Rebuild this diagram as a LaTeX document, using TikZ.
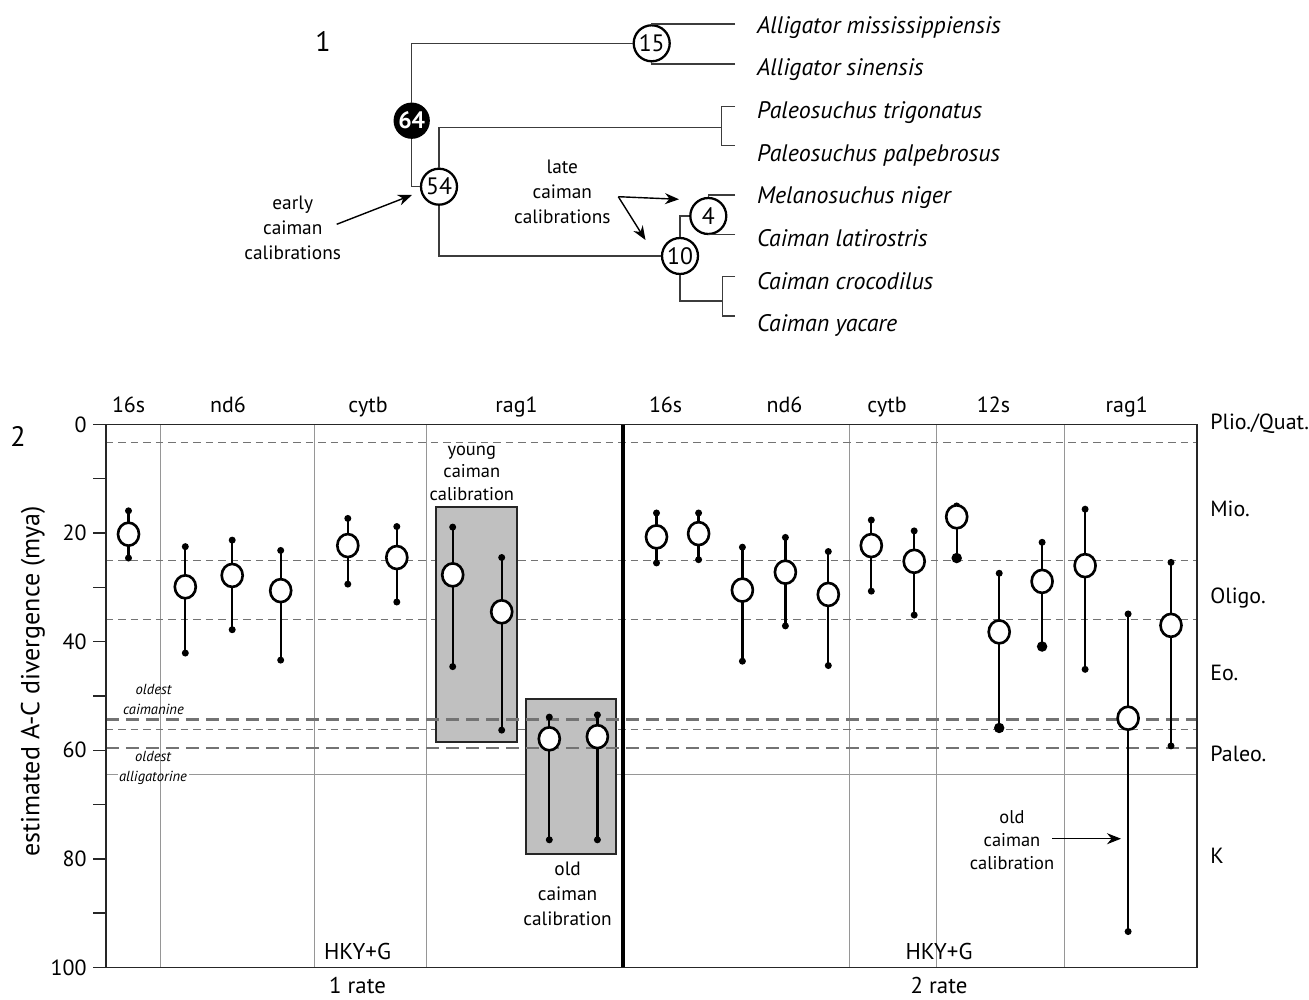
\documentclass[tikz,border=0pt]{standalone}
\usepackage{fontspec}
\setmainfont{PT Sans}
\usepackage{tikz}
\usetikzlibrary{shapes.geometric, arrows.meta, positioning, calc}
\definecolor{branchGray}{RGB}{60, 60, 60}
\definecolor{gridGray}{RGB}{150, 150, 150}
\definecolor{dashGray}{RGB}{115, 115, 115}
\definecolor{boxGray}{RGB}{192, 192, 192}
\tikzset{
  branch/.style={
    draw=branchGray, line width=0.85pt
  },
  cladenode/.style={
    circle, draw=black, line width=1.3pt, fill=white,
    minimum size=0.72cm, inner sep=0pt,
    font=\fontsize{13.5}{14}\selectfont
  },
  rootnode/.style={
    cladenode, fill=black, text=white, minimum size=0.68cm,
    font=\fontsize{13.5}{14}\selectfont\bfseries
  },
  taxon/.style={
    anchor=base west, inner sep=0pt,
    font=\fontsize{13.6}{15}\selectfont\itshape
  },
  note/.style={
    align=center, inner sep=0pt,
    font=\fontsize{11}{14.2}\selectfont
  },
  smallnote/.style={
    align=center, inner sep=0pt,
    font=\fontsize{10.5}{13}\selectfont
  },
  fossilnote/.style={
    align=center, inner sep=0pt,
    font=\fontsize{8.3}{11.4}\selectfont\itshape
  },
  callout/.style={
    -{Stealth[length=2.8mm,width=2.2mm]}, line width=0.8pt
  },
  gridline/.style={draw=gridGray, line width=0.5pt},
  minorline/.style={
    draw=dashGray, line width=0.6pt, dash pattern=on 0.15cm off 0.1cm
  },
  epochline/.style={
    draw=dashGray, line width=1.6pt, dash pattern=on 0.27cm off 0.13cm
  },
  axisline/.style={draw=black!85, line width=0.8pt},
  calbox/.style={draw=black!85, line width=1.2pt, fill=boxGray},
  errbar/.style={line width=1.3pt},
  estnode/.style={
    ellipse, draw, line width=1.5pt, fill=white,
    minimum width=0.42cm, minimum height=0.46cm, inner sep=0pt
  },
  tipdot/.style={circle, fill=black, minimum size=0.14cm, inner sep=0pt},
  bigdot/.style={tipdot, minimum size=0.21cm},
  genelabel/.style={anchor=base, inner sep=0pt, font=\fontsize{12.5}{15}\selectfont},
  epochlabel/.style={anchor=base west, inner sep=0pt, font=\fontsize{12.5}{15}\selectfont},
  ticklabel/.style={anchor=east, inner sep=0pt, font=\fontsize{12.5}{15}\selectfont}
}

% one estimate: [bottom dot style]{name}{x}{upper}{estimate}{lower}
\newcommand{\estbar}[6][tipdot]{%
  \node[tipdot] (#2top) at (#3,#4) {};
  \node[#1] (#2bot) at (#3,#6) {};
  \draw[errbar] (#2top.center) -- (#2bot.center);
  \node[estnode] (#2) at (#3,#5) {};
}

\begin{document}
\begin{tikzpicture}[x=0.02cm, y=-0.02cm]

  \useasboundingbox (0,0) rectangle (1309,1000);
  \fill[white] (0,0) rectangle (1309,1000);

  % part 1: tree
  \node[font=\fontsize{16}{18}\selectfont] (lab1) at (323,41) {1};

  \node[rootnode]  (n64) at (411.7,120.7) {64};
  \node[cladenode] (n54) at (439,186.7)   {54};
  \node[cladenode] (n15) at (651.7,43.3)  {15};
  \node[cladenode] (n4)  at (708.3,216)   {4};
  \node[cladenode] (n10) at (680,256)     {10};

  \node[taxon] (amis) at (756.7,33.3)  {Alligator mississippiensis};
  \node[taxon] (asin) at (756.7,75.9)  {Alligator sinensis};
  \node[taxon] (ptri) at (756.7,118.6) {Paleosuchus trigonatus};
  \node[taxon] (ppal) at (756.7,161.2) {Paleosuchus palpebrosus};
  \node[taxon] (mnig) at (756.7,203.8) {Melanosuchus niger};
  \node[taxon] (clat) at (756.7,246.5) {Caiman latirostris};
  \node[taxon] (ccro) at (756.7,289.1) {Caiman crocodilus};
  \node[taxon] (cyac) at (756.7,331.7) {Caiman yacare};

  \coordinate (amisEnd)  at (735,24);
  \coordinate (asinEnd)  at (735,64);
  \coordinate (paleoFork) at (721.7,127.3);
  \coordinate (ptriEnd)  at (735,106.7);
  \coordinate (ppalEnd)  at (735,145.7);
  \coordinate (mnigEnd)  at (735,195);
  \coordinate (clatEnd)  at (735,234.3);
  \coordinate (caimFork) at (722.7,301);
  \coordinate (ccroEnd)  at (735,276.7);
  \coordinate (cyacEnd)  at (735,316);

  \draw[branch] (n64) |- (n15);
  \draw[branch] (n64) |- (n54);
  \draw[branch] (amisEnd) -| (n15);
  \draw[branch] (asinEnd) -| (n15);
  \draw[branch] (n54) |- (paleoFork);
  \draw[branch] (ptriEnd) -| (paleoFork) |- (ppalEnd);
  \draw[branch] (n54) |- (n10);
  \draw[branch] (n10) |- (n4);
  \draw[branch] (mnigEnd) -| (n4);
  \draw[branch] (clatEnd) -| (n4);
  \draw[branch] (n10) |- (caimFork);
  \draw[branch] (ccroEnd) -| (caimFork) |- (cyacEnd);

  \node[note] (earlytxt) at (292.7,228) {early\\caiman\\calibrations};
  \coordinate (earlyTail) at (336.7,224.3);
  \coordinate (earlyTip)  at (412,195);
  \draw[callout] (earlyTail) -- (earlyTip);

  \node[note] (latetxt) at (562.3,192) {late\\caiman\\calibrations};
  \coordinate (lateTail)  at (618.3,196.7);
  \coordinate (lateTipA)  at (679,199.3);
  \coordinate (lateTipB)  at (645.5,240);
  \draw[callout] (lateTail) -- (lateTipA);
  \draw[callout] (lateTail) -- (lateTipB);

  % part 2: divergence estimates, y in mya
  \begin{scope}[shift={(0,424.5)}, y=-0.1086cm]

    \node[font=\fontsize{16}{18}\selectfont] (lab2) at (18,2.3) {2};

    \foreach \gx in {160,314,426.6,849,936,1064}
      \draw[gridline] (\gx,0) -- (\gx,100);
    \foreach \gy in {3.4,25,36,56.1}
      \draw[minorline] (106,\gy) -- (1197,\gy);
    \draw[gridline] (106,64.5) -- (118,64.5);
    \draw[gridline] (189,64.5) -- (1197,64.5);

    \draw[calbox] (436,15.2) rectangle (517,58.5);
    \draw[calbox] (526,50.5) rectangle (616,79.1);

    \foreach \gy in {54.4,59.6}
      \draw[epochline] (106,\gy) -- (1197,\gy);

    \draw[axisline] (106,0) -- (1197,0) -- (1197,100) -- (93,100);
    \draw[axisline] (106,0) -- (106,100);
    \foreach \t in {0,10,...,90}
      \draw[axisline] (93,\t) -- (106,\t);
    \foreach \t in {0,20,...,100}
      \node[ticklabel] (tick\t) at (87,\t) {\t};
    \draw[line width=2.8pt] (623,0) -- (623,100);

    \node[rotate=90, font=\fontsize{14.8}{16}\selectfont] (ylab) at (33,47.3)
      {estimated A-C divergence (mya)};

    \node[genelabel] (ga16s) at (128.6,-2.2) {16s};
    \node[genelabel] (gand6) at (228,-2.2)   {nd6};
    \node[genelabel] (gacyt) at (368,-2.2)   {cytb};
    \node[genelabel] (garag) at (516.5,-2.2) {rag1};
    \node[genelabel] (gb16s) at (665.6,-2.2) {16s};
    \node[genelabel] (gbnd6) at (784.5,-2.2) {nd6};
    \node[genelabel] (gbcyt) at (887,-2.2)   {cytb};
    \node[genelabel] (gb12s) at (993.4,-2.2) {12s};
    \node[genelabel] (gbrag) at (1126.8,-2.2) {rag1};

    \node[epochlabel] (plio)  at (1210,0.9)  {Plio./Quat.};
    \node[epochlabel] (mio)   at (1210,17.0) {Mio.};
    \node[epochlabel] (oligo) at (1210,32.9) {Oligo.};
    \node[epochlabel] (eo)    at (1210,47.1) {Eo.};
    \node[epochlabel] (paleo) at (1210,62.0) {Paleo.};
    \node[epochlabel] (cret)  at (1210,80.8) {K};

    \node[fossilnote] (caimanine)    at (153.5,50.7) {oldest\\caimanine};
    \node[fossilnote] (alligatorine) at (153,63.3)   {oldest\\alligatorine};

    \node[smallnote] (youngtxt) at (471.8,9.0)  {young\\caiman\\calibration};
    \node[note]      (oldtxtL)  at (567.6,86.4) {old\\caiman\\calibration};
    \node[smallnote] (oldtxtR)  at (1012,76.6)  {old\\caiman\\calibration};
    \coordinate (oldTail) at (1052,76.3);
    \coordinate (oldTip)  at (1121,76.3);
    \draw[callout] (oldTail) -- (oldTip);

    % 1 rate
    \estbar{ea}{128.5}{15.9}{20.2}{24.6}
    \estbar{eb}{185.3}{22.5}{29.9}{42.1}
    \estbar{ec}{232.2}{21.3}{27.8}{37.8}
    \estbar{ed}{280.7}{23.2}{30.6}{43.4}
    \estbar{ee}{347.8}{17.3}{22.3}{29.4}
    \estbar{ef}{396.8}{18.8}{24.5}{32.7}
    \estbar{eg}{452.7}{18.9}{27.7}{44.6}
    \estbar{eh}{501.7}{24.5}{34.5}{56.3}
    \estbar{ei}{549.3}{53.9}{57.9}{76.5}
    \estbar{ej}{597.4}{53.5}{57.5}{76.5}

    % 2 rate
    \estbar{fa}{656.5}{16.3}{20.7}{25.5}
    \estbar{fb}{698.6}{16.3}{20.1}{24.9}
    \estbar{fc}{742.4}{22.6}{30.5}{43.6}
    \estbar{fd}{785.4}{20.8}{27.2}{37.1}
    \estbar{fe}{828.3}{23.4}{31.3}{44.4}
    \estbar{ff}{871.3}{17.6}{22.3}{30.7}
    \estbar{fg}{914.2}{19.6}{25.2}{35.1}
    \estbar[bigdot]{fh}{956.7}{15.0}{17.0}{24.6}
    \estbar[bigdot]{fi}{999.2}{27.4}{38.2}{55.9}
    \estbar[bigdot]{fj}{1042.1}{21.7}{28.9}{40.9}
    \estbar{fk}{1085.1}{15.6}{26.0}{45.1}
    \estbar{fl}{1128.1}{34.9}{54.1}{93.4}
    \estbar{fm}{1171}{25.4}{37.0}{59.2}

    \node[genelabel, font=\fontsize{13}{15}\selectfont] (hkyA) at (357.5,98.6) {HKY+G};
    \node[genelabel, font=\fontsize{13}{15}\selectfont] (hkyB) at (939,98.6)   {HKY+G};
    \node[genelabel, font=\fontsize{13}{15}\selectfont] (rateA) at (357.5,104.9) {1 rate};
    \node[genelabel, font=\fontsize{13}{15}\selectfont] (rateB) at (939,104.9)   {2 rate};

  \end{scope}

\end{tikzpicture}
\end{document}
